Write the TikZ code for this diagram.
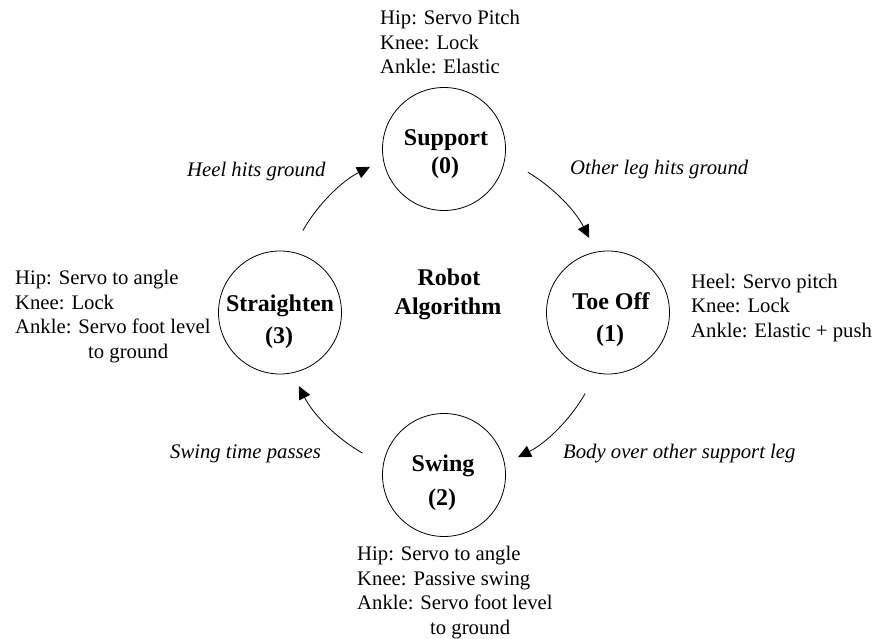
\documentclass[tikz,border=0pt]{standalone}
\usepackage{fontspec}
\setmainfont{Liberation Serif}
\usetikzlibrary{arrows.meta}
\tikzset{
  state/.style={draw, circle, minimum size=123pt, inner sep=0pt, line width=0.8pt},
  flow/.style={-{Triangle[length=13pt,width=12pt]}, line width=0.8pt},
  info/.style={anchor=base west, align=left, inner sep=0pt, font=\fontsize{20.7}{24.5}\selectfont},
  cond/.style={anchor=base west, inner sep=0pt, font=\fontsize{20.7}{24.5}\selectfont\itshape},
  title/.style={anchor=base, inner sep=0pt, font=\fontsize{24}{28}\selectfont\bfseries}
}
\begin{document}
\begin{tikzpicture}[x=1pt,y=1pt]
\useasboundingbox (0,-639) rectangle (875,0);
% states
\node[state] (s0) at (444,-149) {};
\node[state] (s1) at (608,-312.5) {};
\node[state] (s2) at (444,-475) {};
\node[state] (s3) at (280,-312.5) {};
\coordinate (ring) at (444,-312);
% titles
\node[title] (t0a) at (446,-146) {Support};
\node[title] (t0b) at (445,-174) {(0)};
\node[title] (t1a) at (611,-309) {Toe Off};
\node[title] (t1b) at (610,-341) {(1)};
\node[title] (t2a) at (443,-471) {Swing};
\node[title] (t2b) at (442,-505) {(2)};
\node[title] (t3a) at (280,-311.5) {Straighten};
\node[title] (t3b) at (279,-343) {(3)};
\node[title] (ra) at (449,-285) {Robot};
\node[title] (rb) at (448,-314) {Algorithm};
% info blocks (base anchor = last line)
\node[info] (i0) at (380,-74) {Hip: Servo Pitch\\Knee: Lock\\Ankle: Elastic};
\node[info] (i1) at (691,-337) {Heel: Servo pitch\\Knee: Lock\\Ankle: Elastic + push};
\node[info] (i3) at (15,-358) {Hip: Servo to angle\\Knee: Lock\\Ankle: Servo foot level\\\hspace*{73pt}to ground};
\node[info] (i2) at (357,-634) {Hip: Servo to angle\\Knee: Passive swing\\Ankle: Servo foot level\\\hspace*{73pt}to ground};
% transition labels
\node[cond] (c0) at (570,-175) {Other leg hits ground};
\node[cond] (c1) at (563,-458) {Body over other support leg};
\node[cond] (c2) at (170,-458) {Swing time passes};
\node[cond] (c3) at (187,-177) {Heel hits ground};
% transitions
\draw[flow] ([shift={(59:163)}]ring) arc[start angle=59, end angle=27, radius=163];
\draw[flow] ([shift={(-30:163)}]ring) arc[start angle=-30, end angle=-63, radius=163];
\draw[flow] ([shift={(-120:163)}]ring) arc[start angle=-120, end angle=-153, radius=163];
\draw[flow] ([shift={(150:163)}]ring) arc[start angle=150, end angle=117, radius=163];
\end{tikzpicture}
\end{document}
